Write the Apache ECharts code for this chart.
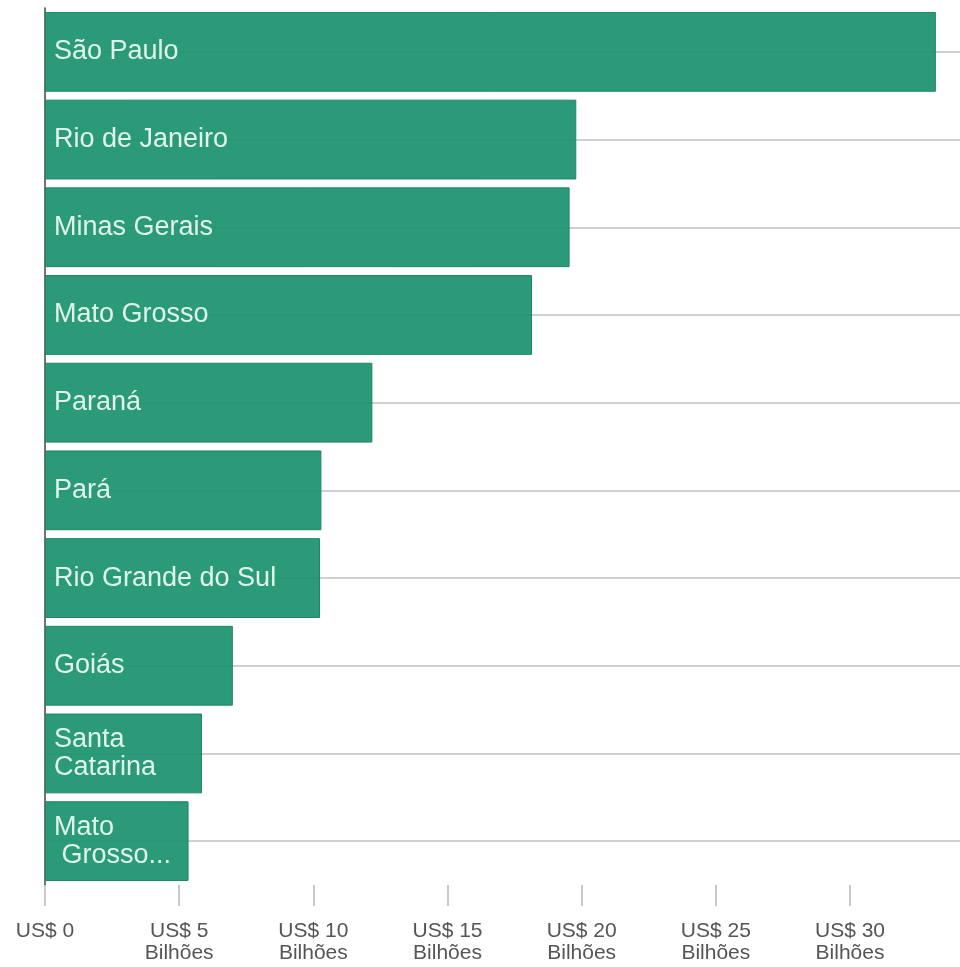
<!DOCTYPE html>
<html>
<head>
<meta charset="utf-8">
<script src="https://cdn.jsdelivr.net/npm/echarts@6/dist/echarts.min.js"></script>
<style>
  html, body { margin: 0; padding: 0; background: #fff; }
  #chart { width: 960px; height: 967px; }
</style>
</head>
<body>
<div id="chart"></div>
<script>
// estados (rótulo mostrado dentro da barra)
const states = [
  'São Paulo', 'Rio de Janeiro', 'Minas Gerais', 'Mato Grosso', 'Paraná',
  'Pará', 'Rio Grande do Sul', 'Goiás', 'Santa\nCatarina', 'Mato\n Grosso...'
];
// valores em US$ bilhões
const values = [33.2, 19.8, 19.55, 18.15, 12.2, 10.3, 10.25, 7.0, 5.85, 5.35];
const tickValues = [0, 5, 10, 15, 20, 25, 30];

const chart = echarts.init(document.getElementById('chart'));

const option = {
  animation: false,
  textStyle: { fontFamily: 'Liberation Sans, Arial, sans-serif' },
  grid: { left: 45, right: 0, top: 8, bottom: 82 },
  xAxis: {
    type: 'value',
    min: 0,
    max: 34.1,
    splitLine: { show: false },
    axisLine: { show: false },
    axisTick: {
      show: true,
      length: 21,
      customValues: tickValues,
      lineStyle: { color: '#c8c8c8', width: 2 }
    },
    axisLabel: {
      customValues: tickValues,
      margin: 35,
      fontSize: 21,
      lineHeight: 22,
      color: '#555',
      formatter: function (v) {
        return v === 0 ? 'US$ 0' : 'US$ ' + v + '\nBilhões';
      }
    }
  },
  yAxis: {
    type: 'category',
    inverse: true,
    data: states,
    axisLine: { show: true, lineStyle: { color: '#444', width: 1.5 } },
    axisTick: { show: false },
    axisLabel: { show: false }
  },
  series: [
    {
      // linhas de grade no centro de cada categoria
      type: 'line',
      data: [],
      z: 1,
      silent: true,
      markLine: {
        z: 1,
        symbol: 'none',
        silent: true,
        label: { show: false },
        lineStyle: { color: '#cfcfcf', width: 2, type: 'solid' },
        data: states.map(s => ({ yAxis: s }))
      }
    },
    {
      type: 'bar',
      z: 3,
      data: values,
      barCategoryGap: '9%',
      itemStyle: {
        color: 'rgba(30,148,113,0.94)',
        borderColor: '#1d8665',
        borderWidth: 1
      },
      label: {
        show: true,
        position: 'insideLeft',
        distance: 9,
        fontSize: 27,
        lineHeight: 28,
        color: '#e2f4ea',
        formatter: function (p) { return p.name; }
      }
    }
  ]
};

chart.setOption(option);
</script>
</body>
</html>
